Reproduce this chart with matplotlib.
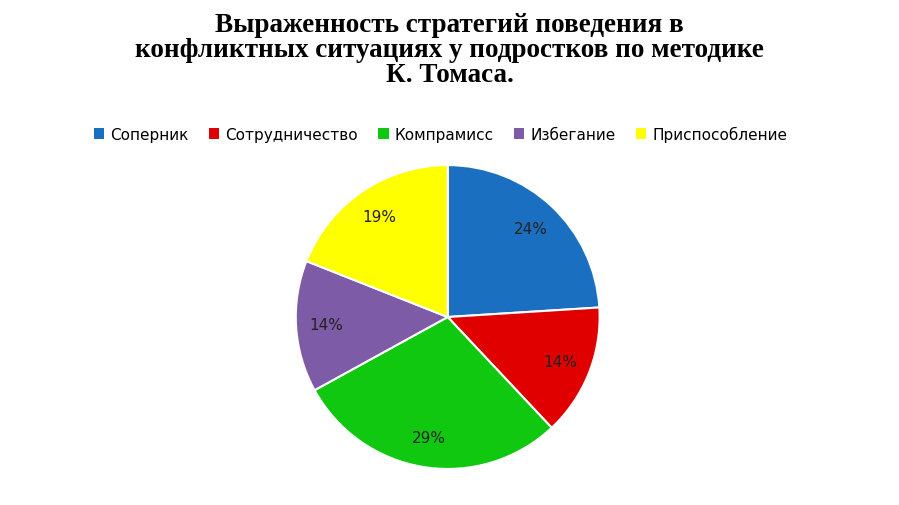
import matplotlib
matplotlib.use("Agg")
import matplotlib.pyplot as plt
from matplotlib.patches import Patch

categories = ["Соперник", "Сотрудничество", "Компрамисс", "Избегание", "Приспособление"]
values = [24, 14, 29, 14, 19]
colors = ["#1A6FC0", "#E00000", "#10C810", "#7E5BA6", "#FFFF00"]

fig = plt.figure(figsize=(8.99, 5.06), dpi=100)
fig.patch.set_facecolor("white")
ax = fig.add_axes([0.329, 0.071, 0.338, 0.601])
wedges, texts, autotexts = ax.pie(values, colors=colors, startangle=90, counterclock=False,
       autopct=lambda p: f"{p:.0f}%", pctdistance=0.8,
       wedgeprops=dict(edgecolor="white", linewidth=1.5),
       textprops=dict(fontsize=11, color="#222222", family="DejaVu Sans"))
ax.set_xlim(-1, 1)
ax.set_ylim(-1, 1)
ax.set_aspect("equal")

fig.text(0.5, 0.975, "Выраженность стратегий поведения в\nконфликтных ситуациях у подростков по методике\nК. Томаса.",
         ha="center", va="top", fontsize=19.5, fontweight="bold", family="Liberation Serif", linespacing=1.0)

handles = [Patch(facecolor=c, edgecolor="none") for c in colors]
fig.legend(handles, categories, loc="center", bbox_to_anchor=(0.49, 0.733), ncol=5,
           frameon=False, handlelength=0.7, handleheight=0.7,
           handletextpad=0.4, columnspacing=1.3, prop={"family": "DejaVu Sans", "size": 11})

fig.savefig("out.png", dpi=100)
